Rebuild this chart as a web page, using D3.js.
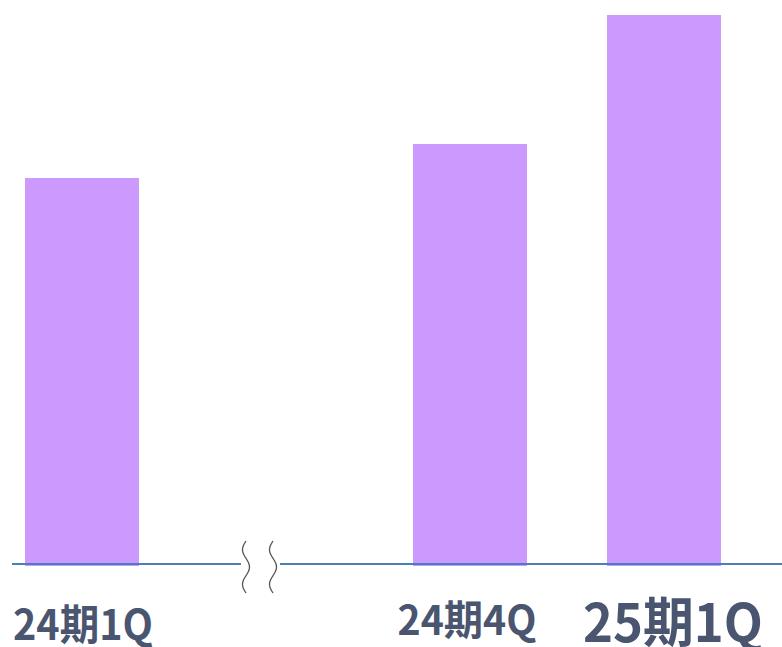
<!DOCTYPE html>
<html><head><meta charset="utf-8">
<script src="https://cdn.jsdelivr.net/npm/d3@7"></script>
<style>html,body{margin:0;padding:0;background:#fff;}svg{display:block;}</style>
</head><body>
<svg id="c" width="782" height="647"></svg>
<script>
const categories = ["24期1Q", "", "24期4Q", "25期1Q"];
const barCategories = ["24期1Q", "24期4Q", "25期1Q"];
const values = [388, 422, 551];
const labelSizes = [42, 41, 53];

const svg = d3.select("#c");
const x = d3.scaleBand().domain(categories).range([-15, 761]).paddingInner(80/194).paddingOuter(40/194);
const y = d3.scaleLinear().domain([0, 551]).range([566, 15]);

svg.selectAll("rect.bar").data(barCategories).join("rect")
  .attr("class","bar")
  .attr("x", d => x(d))
  .attr("width", x.bandwidth())
  .attr("y", (d,i) => y(values[i]))
  .attr("height", (d,i) => y(0) - y(values[i]))
  .attr("fill", "#cc99ff");

// axis line with break
const axisY = 564;
svg.append("line").attr("x1",12).attr("x2",241).attr("y1",axisY).attr("y2",axisY)
  .attr("stroke","#4a7ebb").attr("stroke-width",2);
svg.append("line").attr("x1",280).attr("x2",782).attr("y1",axisY).attr("y2",axisY)
  .attr("stroke","#4a7ebb").attr("stroke-width",2);

// break waves
function wave(cx){
  const pts = [];
  for(let t=0;t<=52;t+=1){
    pts.push([cx + 3.5*Math.sin(t/52*Math.PI*3 + Math.PI), 541 + t]);
  }
  return d3.line().curve(d3.curveBasis)(pts);
}
[246, 273].forEach(cx => {
  svg.append("path").attr("d", wave(cx)).attr("fill","none")
    .attr("stroke","#555").attr("stroke-width",1.3);
});

// labels
const labelX = [83, 467, 673];
const labelY = [640, 635, 642];
const labelW = [140, 139, 180];
svg.selectAll("text.lbl").data(barCategories).join("text")
  .attr("class","lbl")
  .attr("x", (d,i) => labelX[i])
  .attr("y", (d,i) => labelY[i])
  .attr("text-anchor","middle")
  .attr("font-family","'Noto Sans CJK JP', 'Noto Sans', sans-serif")
  .attr("font-weight","bold")
  .attr("font-size",(d,i) => labelSizes[i])
  .attr("textLength",(d,i) => labelW[i])
  .attr("lengthAdjust","spacingAndGlyphs")
  .attr("fill","#4a5570")
  .text(d => d);
</script>
</body></html>
